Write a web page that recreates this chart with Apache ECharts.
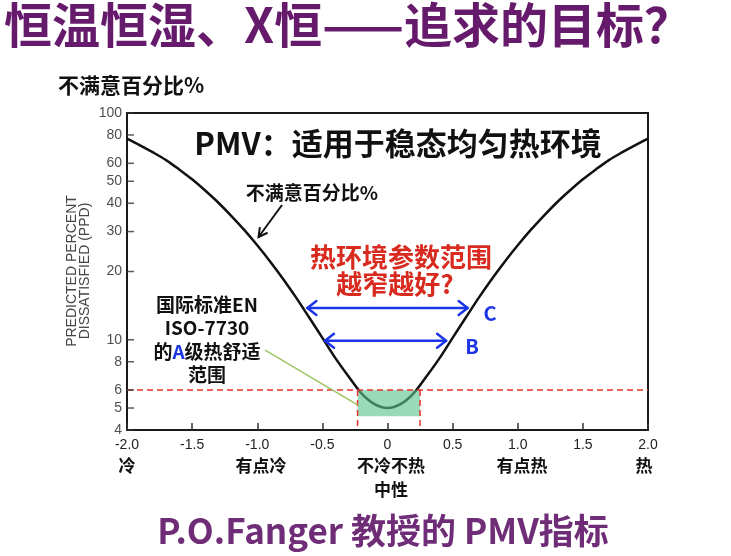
<!DOCTYPE html>
<html><head><meta charset="utf-8">
<script src="https://cdn.jsdelivr.net/npm/echarts@6/dist/echarts.min.js"></script>
<style>html,body{margin:0;padding:0;background:#fff}#c{width:731px;height:556px}</style>
</head><body><div id="c"></div>
<script>
// ---- data ----
const pmv = [-2.0,-1.9,-1.8,-1.7,-1.6,-1.5,-1.4,-1.3,-1.2,-1.1,-1.0,-0.9,-0.8,-0.7,-0.6,-0.5,-0.4,-0.3,-0.2,-0.1,0.0,0.1,0.2,0.3,0.4,0.5,0.6,0.7,0.8,0.9,1.0,1.1,1.2,1.3,1.4,1.5,1.6,1.7,1.8,1.9,2.0];
const ppd = [77,72,67,62,56.4,51,45.5,40.3,35.2,30.5,26.1,22.1,18.5,15.3,12.5,10.2,8.3,6.9,5.8,5.2,5.0,5.2,5.8,6.9,8.3,10.2,12.5,15.3,18.5,22.1,26.1,30.5,35.2,40.3,45.5,51,56.4,62,67,72,77];
const xTicks = [-2,-1.5,-1,-0.5,0,0.5,1,1.5,2];
const xTickLabels = ['-2.0','-1.5','-1.0','-0.5','0','0.5','1.0','1.5','2.0'];
const yTicks = [4,5,6,8,10,20,30,40,50,60,80,100];
const comfortBand = [-0.23, 6, 0.25, 4.6];   // PMV from, PPD top, PMV to, PPD bottom
const limitPPD = 6;
const arrowC = [-0.615, 13.8, 0.615];
const arrowB = [-0.48, 9.9, 0.45];
const pointer = [-0.81, 39.3, -0.99, 28.4];
const leader = [-0.94, 9.0, -0.23, 5.16];

const chart = echarts.init(document.getElementById('c'));
const axisFont = 'Liberation Sans, Arial, sans-serif';
const cjk = '"Noto Sans CJK SC", sans-serif';

function arrowRender(color) {
  return function (params, api) {
    const a = api.coord([api.value(0), api.value(1)]);
    const b = api.coord([api.value(2), api.value(1)]);
    const h = 9, w = 7;
    const st = {stroke: color, lineWidth: 2.5, fill: null, lineCap: 'round', lineJoin: 'round'};
    return {type: 'group', children: [
      {type: 'line', shape: {x1: a[0], y1: a[1], x2: b[0], y2: b[1]}, style: st},
      {type: 'polyline', shape: {points: [[a[0] + h, a[1] - w], [a[0], a[1]], [a[0] + h, a[1] + w]]}, style: st},
      {type: 'polyline', shape: {points: [[b[0] - h, b[1] - w], [b[0], b[1]], [b[0] - h, b[1] + w]]}, style: st}
    ]};
  };
}

chart.setOption({
  animation: false,
  grid: {left: 127, right: 83, top: 113, bottom: 126, show: true, borderColor: '#1a1a1a', borderWidth: 2, backgroundColor: 'transparent'},
  xAxis: {
    type: 'value', min: -2, max: 2, interval: 0.5,
    axisLine: {show: true, lineStyle: {color: '#1a1a1a', width: 2}},
    axisTick: {show: true, inside: true, length: 7, lineStyle: {color: '#333', width: 1.5}},
    axisLabel: {color: '#222', fontFamily: axisFont, fontSize: 14, margin: 8,
      formatter: v => { const i = xTicks.findIndex(t => Math.abs(t - v) < 1e-9); return i >= 0 ? xTickLabels[i] : ''; }},
    splitLine: {show: false}
  },
  yAxis: {
    type: 'log', logBase: 10, min: 4, max: 100,
    axisLine: {show: false}, axisTick: {show: false}, axisLabel: {show: false}, splitLine: {show: false}
  },
  series: [
    {
      type: 'scatter', clip: false, silent: true, z: 5,
      data: yTicks.map(v => [-2, v]),
      symbol: 'rect', symbolSize: [7, 1.5], symbolOffset: [3.5, 0],
      itemStyle: {color: '#333'},
      label: {show: true, position: 'left', distance: 5, color: '#222', fontFamily: axisFont, fontSize: 14,
        formatter: p => String(p.value[1])}
    },
    {
      type: 'line', data: pmv.map((x, i) => [x, ppd[i]]), smooth: 0.3, showSymbol: false, symbol: 'none',
      lineStyle: {color: '#111', width: 2.5}, z: 2, silent: true
    },
    {
      type: 'custom', z: 3, silent: true, data: [comfortBand], encode: {x: [0, 2], y: [1, 3]},
      renderItem: (params, api) => {
        const a = api.coord([api.value(0), api.value(1)]);
        const b = api.coord([api.value(2), api.value(3)]);
        return {type: 'rect', shape: {x: a[0], y: a[1], width: b[0] - a[0], height: b[1] - a[1]},
          style: {fill: 'rgba(90,195,145,0.62)'}};
      }
    },
    {
      type: 'custom', z: 4, silent: true, data: [[comfortBand[0], limitPPD, comfortBand[2]]], encode: {x: [0, 2], y: 1},
      renderItem: (params, api) => {
        const y = api.value(1);
        const l = api.coord([-2, y]), r = api.coord([2, y]);
        const v1a = api.coord([api.value(0), y]), v1b = api.coord([api.value(0), 4]);
        const v2a = api.coord([api.value(2), y]), v2b = api.coord([api.value(2), 4]);
        const st = {stroke: '#e8322a', lineWidth: 1.5, lineDash: [6, 4], fill: null};
        return {type: 'group', children: [
          {type: 'line', shape: {x1: l[0], y1: l[1], x2: r[0], y2: r[1]}, style: st},
          {type: 'line', shape: {x1: v1a[0], y1: v1a[1], x2: v1b[0], y2: v1b[1]}, style: st},
          {type: 'line', shape: {x1: v2a[0], y1: v2a[1], x2: v2b[0], y2: v2b[1]}, style: st}
        ]};
      }
    },
    {type: 'custom', z: 4, silent: true, data: [arrowC, arrowB], encode: {x: [0, 2], y: 1}, renderItem: arrowRender('#1c35e6')},
    {
      type: 'custom', z: 4, silent: true, data: [pointer], encode: {x: [0, 2], y: [1, 3]},
      renderItem: (params, api) => {
        const a = api.coord([api.value(0), api.value(1)]);
        const b = api.coord([api.value(2), api.value(3)]);
        const ang = Math.atan2(b[1] - a[1], b[0] - a[0]);
        const h = 10, s = 0.5;
        const p1 = [b[0] - h * Math.cos(ang - s), b[1] - h * Math.sin(ang - s)];
        const p2 = [b[0] - h * Math.cos(ang + s), b[1] - h * Math.sin(ang + s)];
        const st = {stroke: '#111', lineWidth: 2, fill: null};
        return {type: 'group', children: [
          {type: 'line', shape: {x1: a[0], y1: a[1], x2: b[0], y2: b[1]}, style: st},
          {type: 'polyline', shape: {points: [p1, b, p2]}, style: st}
        ]};
      }
    },
    {
      type: 'custom', z: 4, silent: true, data: [leader], encode: {x: [0, 2], y: [1, 3]},
      renderItem: (params, api) => {
        const a = api.coord([api.value(0), api.value(1)]);
        const b = api.coord([api.value(2), api.value(3)]);
        return {type: 'line', shape: {x1: a[0], y1: a[1], x2: b[0], y2: b[1]}, style: {stroke: '#9cc462', lineWidth: 1.5}};
      }
    }
  ],
  graphic: [
    {type: 'text', x: 348, y: 25, z: 10, style: {text: '恒温恒湿、X恒——追求的目标？', font: 'bold 48px ' + cjk, fill: '#661a6b',
      align: 'center', verticalAlign: 'middle', shadowColor: 'rgba(0,0,0,0.25)', shadowOffsetX: 1, shadowOffsetY: 1, shadowBlur: 2}},
    {type: 'text', x: 131, y: 85, z: 10, style: {text: '不满意百分比%', font: 'bold 21px ' + cjk, fill: '#111', align: 'center', verticalAlign: 'middle'}},
    {type: 'text', x: 79, y: 271, rotation: Math.PI / 2, z: 10, style: {text: 'PREDICTED PERCENT\nDISSATISFIED (PPD)', font: '14px ' + axisFont, fill: '#444', lineHeight: 13, align: 'center', verticalAlign: 'middle'}},
    {type: 'text', x: 398, y: 143, z: 10, style: {text: 'PMV：适用于稳态均匀热环境', font: 'bold 31px ' + cjk, fill: '#111', align: 'center', verticalAlign: 'middle'}},
    {type: 'text', x: 312, y: 193, z: 10, style: {text: '不满意百分比%', font: 'bold 19px ' + cjk, fill: '#111', align: 'center', verticalAlign: 'middle'}},
    {type: 'text', x: 401, y: 257, z: 10, style: {text: '热环境参数范围', font: 'bold 26px ' + cjk, fill: '#d82a1e', align: 'center', verticalAlign: 'middle'}},
    {type: 'text', x: 395, y: 284, z: 10, style: {text: '越窄越好?', font: 'bold 26px ' + cjk, fill: '#d82a1e', align: 'center', verticalAlign: 'middle'}},
    {type: 'text', x: 490, y: 313, z: 10, style: {text: 'C', font: 'bold 20px ' + cjk, fill: '#1c35e6', align: 'center', verticalAlign: 'middle'}},
    {type: 'text', x: 472, y: 346, z: 10, style: {text: 'B', font: 'bold 20px ' + cjk, fill: '#1c35e6', align: 'center', verticalAlign: 'middle'}},
    {type: 'text', x: 207, y: 305, z: 10, style: {text: '国际标准EN', font: 'bold 19px ' + cjk, fill: '#111', align: 'center', verticalAlign: 'middle'}},
    {type: 'text', x: 207, y: 328, z: 10, style: {text: 'ISO-7730', font: 'bold 19px ' + cjk, fill: '#111', align: 'center', verticalAlign: 'middle'}},
    {type: 'text', x: 207, y: 352, z: 10, style: {text: '的{a|A}级热舒适', font: 'bold 19px ' + cjk, fill: '#111', align: 'center', verticalAlign: 'middle',
      rich: {a: {fill: '#1c35e6', color: '#1c35e6', font: 'bold 19px ' + cjk}}}},
    {type: 'text', x: 207, y: 375, z: 10, style: {text: '范围', font: 'bold 19px ' + cjk, fill: '#111', align: 'center', verticalAlign: 'middle'}},
    {type: 'text', x: 127, y: 466, z: 10, style: {text: '冷', font: 'bold 17px ' + cjk, fill: '#111', align: 'center', verticalAlign: 'middle'}},
    {type: 'text', x: 261, y: 466, z: 10, style: {text: '有点冷', font: 'bold 17px ' + cjk, fill: '#111', align: 'center', verticalAlign: 'middle'}},
    {type: 'text', x: 391, y: 466, z: 10, style: {text: '不冷不热', font: 'bold 17px ' + cjk, fill: '#111', align: 'center', verticalAlign: 'middle'}},
    {type: 'text', x: 391, y: 490, z: 10, style: {text: '中性', font: 'bold 17px ' + cjk, fill: '#111', align: 'center', verticalAlign: 'middle'}},
    {type: 'text', x: 522, y: 466, z: 10, style: {text: '有点热', font: 'bold 17px ' + cjk, fill: '#111', align: 'center', verticalAlign: 'middle'}},
    {type: 'text', x: 644, y: 466, z: 10, style: {text: '热', font: 'bold 17px ' + cjk, fill: '#111', align: 'center', verticalAlign: 'middle'}},
    {type: 'text', x: 383, y: 531, z: 10, style: {text: 'P.O.Fanger 教授的 PMV指标', font: 'bold 35px ' + cjk, fill: '#6f2d77', align: 'center', verticalAlign: 'middle',
      shadowColor: 'rgba(0,0,0,0.2)', shadowOffsetX: 1, shadowOffsetY: 1, shadowBlur: 2}}
  ]
});
</script>
</body></html>
